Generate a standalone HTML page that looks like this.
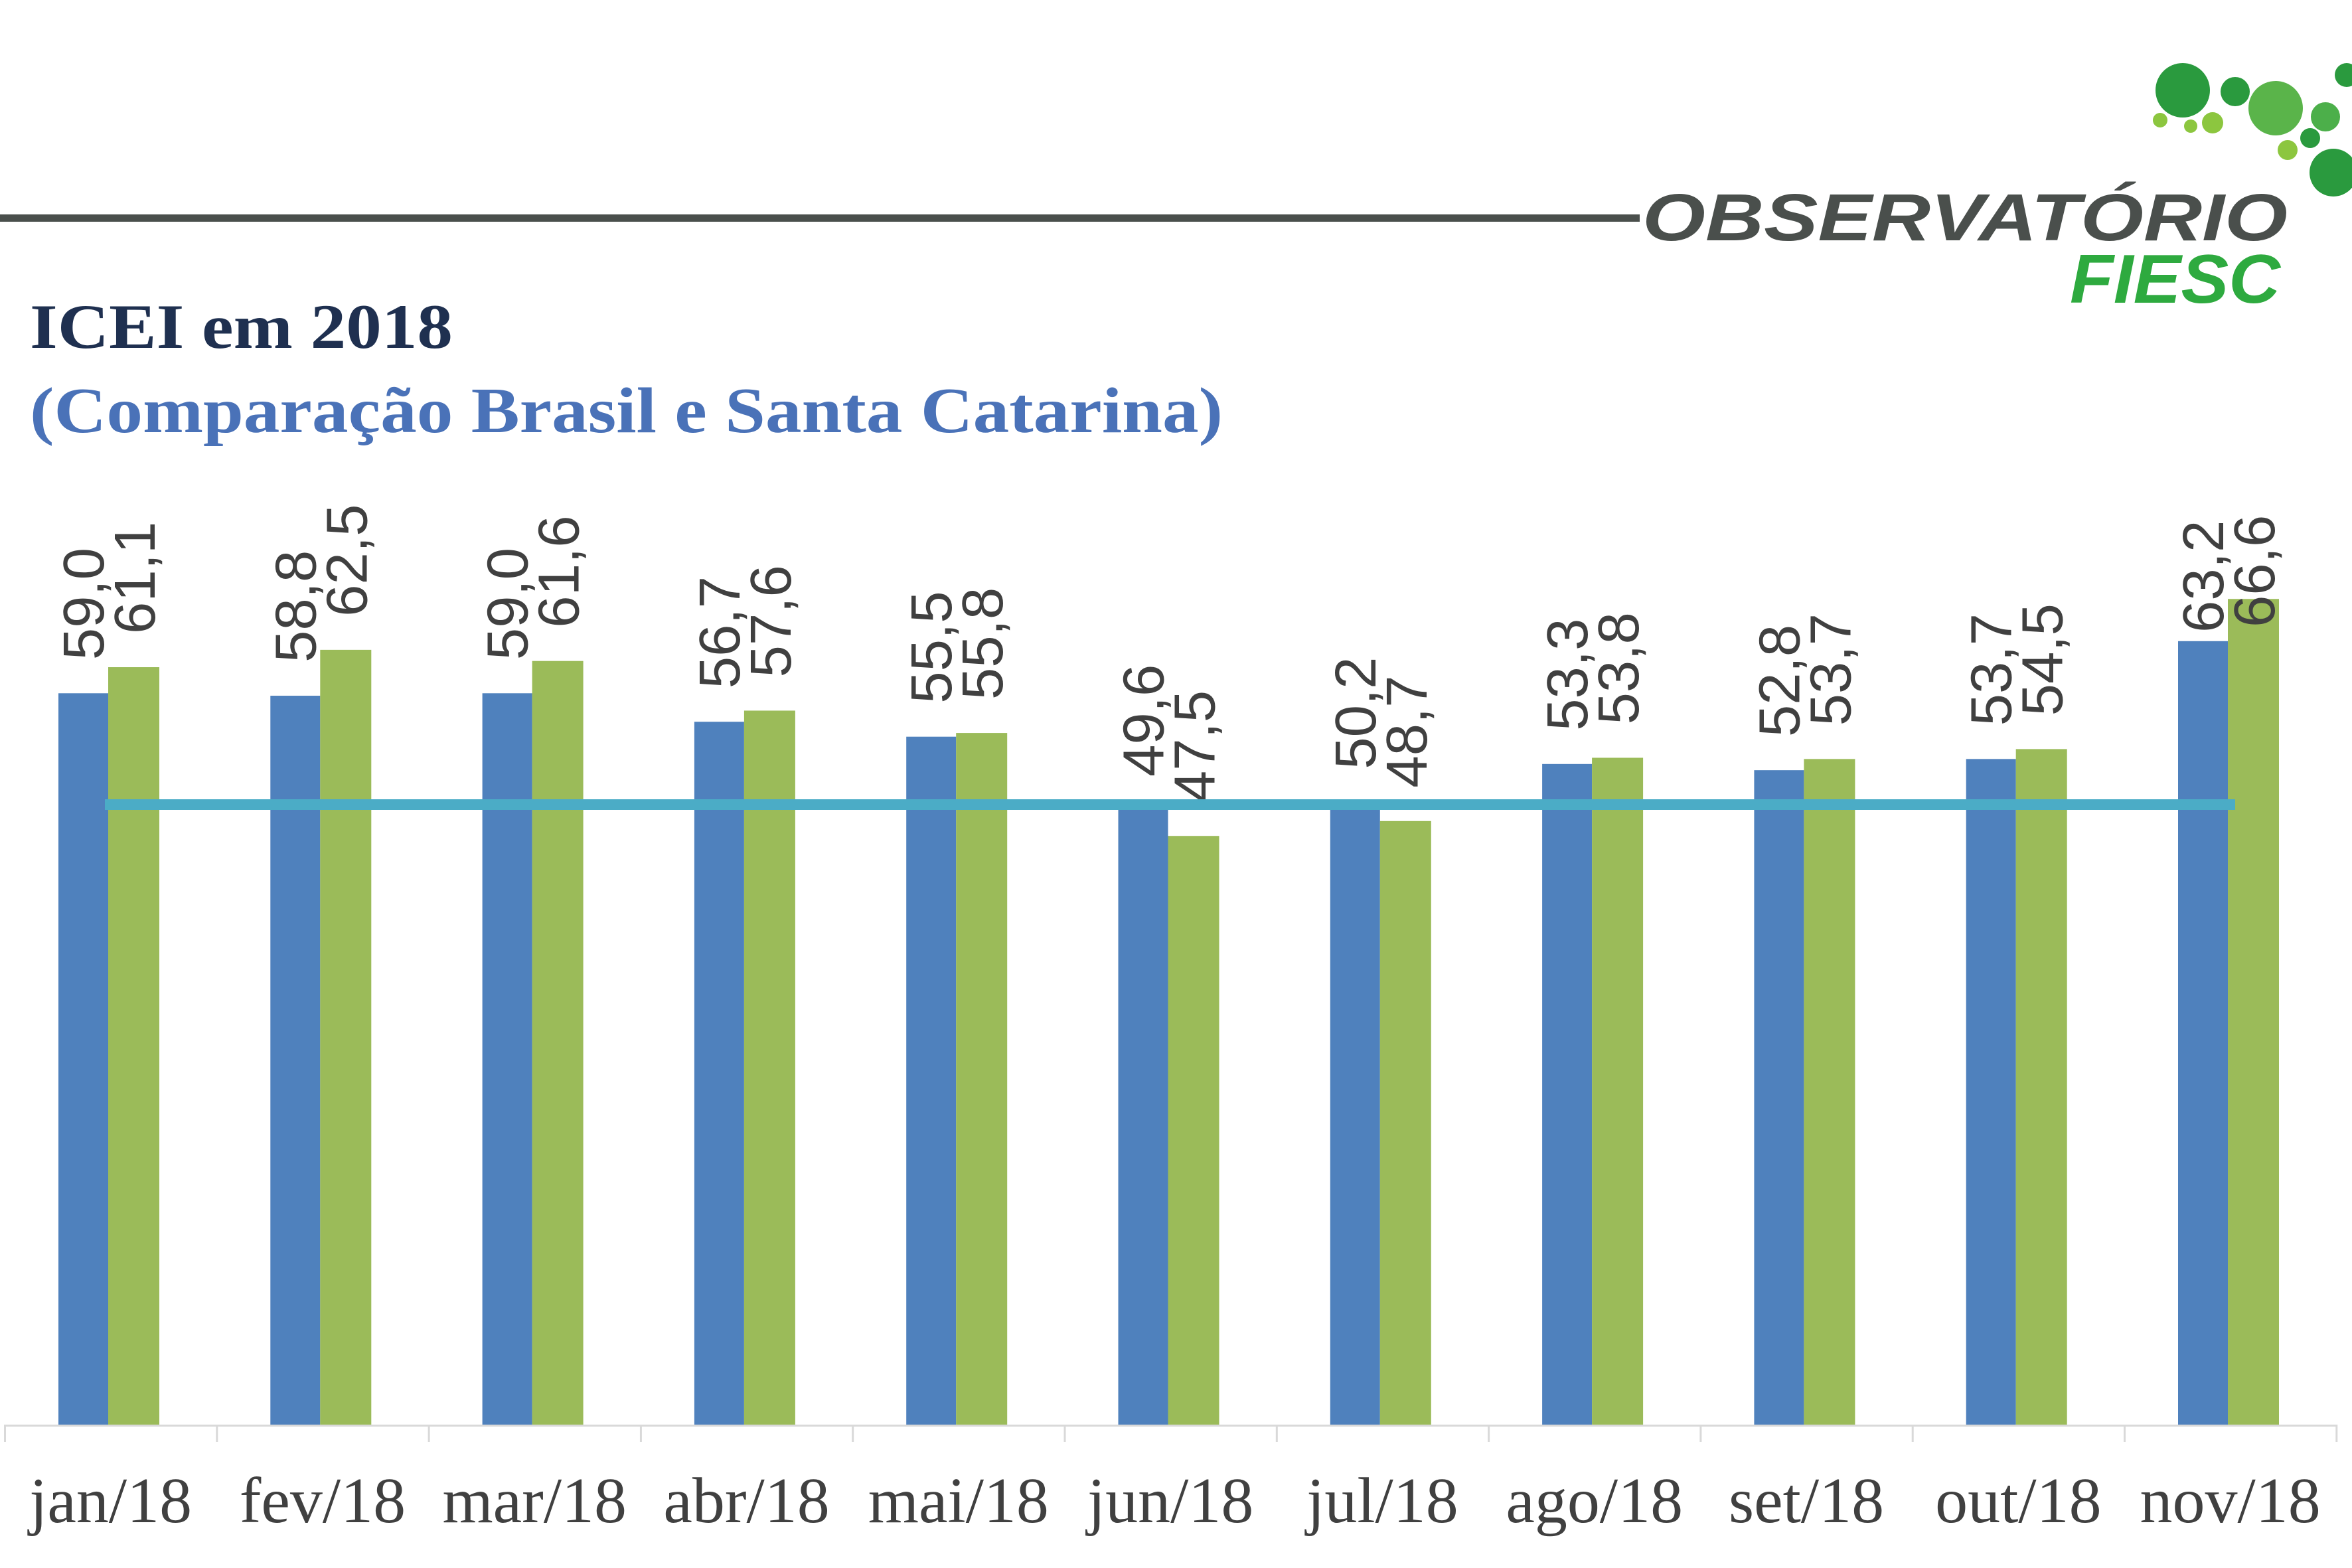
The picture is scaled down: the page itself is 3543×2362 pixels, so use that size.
<!DOCTYPE html>
<html><head><meta charset="utf-8"><style>html,body{margin:0;padding:0;background:#fff}svg{display:block}</style></head>
<body>
<svg width="3543" height="2362" viewBox="0 0 3543 2362" xmlns="http://www.w3.org/2000/svg">
<rect width="3543" height="2362" fill="#fff"/>
<rect x="0" y="323" width="2470" height="11" fill="#4a4f4c"/>
<g>
<circle cx="3288" cy="136" r="41" fill="#2a9a3e"/>
<circle cx="3367" cy="138" r="22" fill="#2a9a3e"/>
<circle cx="3428" cy="163" r="41" fill="#5ab44a"/>
<circle cx="3503" cy="176" r="22" fill="#4caf4a"/>
<circle cx="3515" cy="260" r="36" fill="#2a9a3e"/>
<circle cx="3333" cy="185" r="16" fill="#8cc63f"/>
<circle cx="3254" cy="181" r="11" fill="#8cc63f"/>
<circle cx="3446" cy="226" r="15" fill="#8cc63f"/>
<circle cx="3480" cy="208" r="15" fill="#2a9a3e"/>
<circle cx="3535" cy="113" r="18" fill="#2a9a3e"/>
<circle cx="3300" cy="190" r="10" fill="#8cc63f"/>
</g>
<text x="2474" y="362" font-family="Liberation Sans, sans-serif" font-weight="bold" font-style="italic" font-size="100" fill="#4a4f4c" textLength="972" lengthAdjust="spacingAndGlyphs">OBSERVATÓRIO</text>
<text x="3118" y="456" font-family="Liberation Sans, sans-serif" font-weight="bold" font-style="italic" font-size="104" fill="#2eaa3f" textLength="317" lengthAdjust="spacingAndGlyphs">FIESC</text>
<text x="45" y="524" font-family="Liberation Serif, serif" font-weight="bold" font-size="95" fill="#1f3050" textLength="637" lengthAdjust="spacingAndGlyphs">ICEI em 2018</text>
<text x="45" y="651" font-family="Liberation Serif, serif" font-weight="bold" font-size="98" fill="#4a72b8" textLength="1797" lengthAdjust="spacingAndGlyphs">(Comparação Brasil e Santa Catarina)</text>
<g id="chart"></g>
</svg>
<script>
var br=[59.0,58.8,59.0,56.7,55.5,49.6,50.2,53.3,52.8,53.7,63.2];
var sc=[61.1,62.5,61.6,57.6,55.8,47.5,48.7,53.8,53.7,54.5,66.6];
var labs=["jan/18","fev/18","mar/18","abr/18","mai/18","jun/18","jul/18","ago/18","set/18","out/18","nov/18"];
var B=2147,U=18.69,W=319.3,s="";
for(var i=0;i<11;i++){
 var st=7+W*i, bx=st+81, gx=st+156;
 var bh=br[i]*U, gh=sc[i]*U;
 s+='<rect x="'+bx+'" y="'+(B-bh)+'" width="75" height="'+bh+'" fill="#4f81bd"/>';
 s+='<rect x="'+gx+'" y="'+(B-gh)+'" width="77" height="'+gh+'" fill="#9bbb59"/>';
 var f=function(v){return v.toFixed(1).replace(".",",");};
 var by=B-bh-50, gy=B-gh-50;
 if(i==10){by=953;gy=945;}
 s+='<text transform="translate('+(bx+68)+','+by+') rotate(-90)" font-family="Liberation Sans, sans-serif" font-size="87" fill="#404040">'+f(br[i])+'</text>';
 s+='<text transform="translate('+(gx+70)+','+gy+') rotate(-90)" font-family="Liberation Sans, sans-serif" font-size="87" fill="#404040">'+f(sc[i])+'</text>';
 s+='<text x="'+(st+W/2)+'" y="2293" text-anchor="middle" font-family="Liberation Serif, serif" font-size="98" fill="#404040">'+labs[i]+'</text>';
}
s+='<rect x="7" y="2146" width="3513" height="3" fill="#d9d9d9"/>';
for(var j=0;j<=11;j++){s+='<rect x="'+(6+W*j)+'" y="2146" width="3" height="26" fill="#d9d9d9"/>';}
s+='<rect x="158" y="1204" width="3209" height="16" fill="#4bacc6"/>';
document.getElementById("chart").innerHTML=s;
</script>
</body></html>
